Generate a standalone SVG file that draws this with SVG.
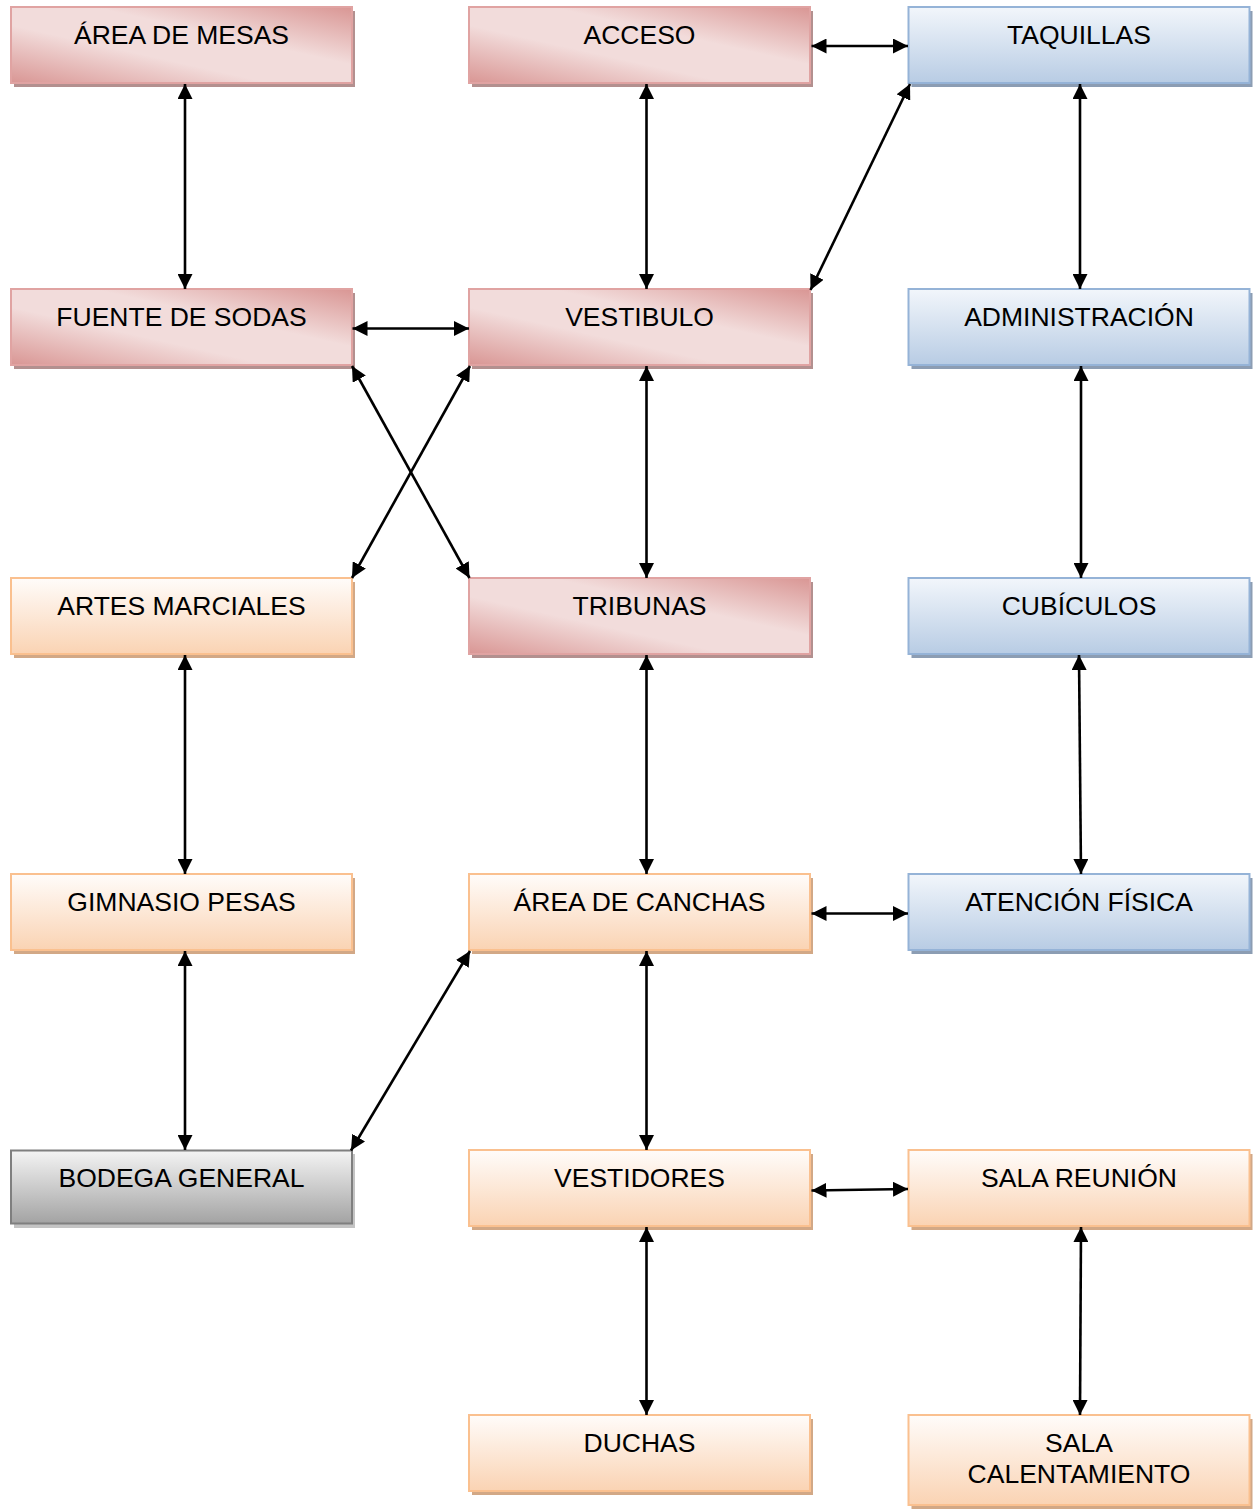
<svg xmlns="http://www.w3.org/2000/svg" width="1254" height="1509" viewBox="0 0 1254 1509">
<style>
text{font-family:"Liberation Sans",Arial,sans-serif;font-size:26.5px;fill:#000;text-anchor:middle}
.red{fill:url(#gRed);stroke:#e0a3a2;stroke-width:2}
.blue{fill:url(#gBlue);stroke:#95b3d7;stroke-width:2}
.orange{fill:url(#gOrange);stroke:#fac08f;stroke-width:2}
.grey{fill:url(#gGrey);stroke:#7f7f7f;stroke-width:2}
.sRed{fill:#b3908f}
.sBlue{fill:#8c9db3}
.sOrange{fill:#d2a886}
.sGrey{fill:#c4c4c4}
.c line{stroke:#000;stroke-width:2.6;marker-start:url(#ah);marker-end:url(#ah)}
</style>
<defs>
<linearGradient id="gRed" x1="0" y1="1" x2="1" y2="0">
<stop offset="0" stop-color="#d99694"/>
<stop offset="0.38" stop-color="#f2dcdb"/>
<stop offset="0.62" stop-color="#f2dcdb"/>
<stop offset="1" stop-color="#d99694"/>
</linearGradient>
<linearGradient id="gBlue" x1="0" y1="0" x2="0" y2="1">
<stop offset="0" stop-color="#f2f6fb"/>
<stop offset="1" stop-color="#b8cce4"/>
</linearGradient>
<linearGradient id="gOrange" x1="0" y1="0" x2="0" y2="1">
<stop offset="0" stop-color="#fffcfa"/>
<stop offset="1" stop-color="#fad3b3"/>
</linearGradient>
<linearGradient id="gGrey" x1="0" y1="0" x2="0" y2="1">
<stop offset="0" stop-color="#f4f4f4"/>
<stop offset="1" stop-color="#a3a3a3"/>
</linearGradient>
<marker id="ah" viewBox="0 0 15 15" refX="15" refY="7.5" markerWidth="15" markerHeight="15" markerUnits="userSpaceOnUse" orient="auto-start-reverse">
<path d="M0,0 L15,7.5 L0,15 z" fill="#000"/>
</marker>
</defs>

<g id="n-area-mesas"><rect class="sRed" x="14" y="11" width="341" height="76"/><rect class="red" x="11" y="7" width="341" height="76"/><text x="181.5" y="43.5">ÁREA DE MESAS</text></g>
<g id="n-acceso"><rect class="sRed" x="472" y="11" width="341" height="76"/><rect class="red" x="469" y="7" width="341" height="76"/><text x="639.5" y="43.5">ACCESO</text></g>
<g id="n-taquillas"><rect class="sBlue" x="911.5" y="11" width="341" height="76"/><rect class="blue" x="908.5" y="7" width="341" height="76"/><text x="1079" y="43.5">TAQUILLAS</text></g>

<g id="n-fuente"><rect class="sRed" x="14" y="293" width="341" height="76"/><rect class="red" x="11" y="289" width="341" height="76"/><text x="181.5" y="325.5">FUENTE DE SODAS</text></g>
<g id="n-vestibulo"><rect class="sRed" x="472" y="293" width="341" height="76"/><rect class="red" x="469" y="289" width="341" height="76"/><text x="639.5" y="325.5">VESTIBULO</text></g>
<g id="n-administracion"><rect class="sBlue" x="911.5" y="293" width="341" height="76"/><rect class="blue" x="908.5" y="289" width="341" height="76"/><text x="1079" y="325.5">ADMINISTRACIÓN</text></g>

<g id="n-artes"><rect class="sOrange" x="14" y="582" width="341" height="76"/><rect class="orange" x="11" y="578" width="341" height="76"/><text x="181.5" y="614.5">ARTES MARCIALES</text></g>
<g id="n-tribunas"><rect class="sRed" x="472" y="582" width="341" height="76"/><rect class="red" x="469" y="578" width="341" height="76"/><text x="639.5" y="614.5">TRIBUNAS</text></g>
<g id="n-cubiculos"><rect class="sBlue" x="911.5" y="582" width="341" height="76"/><rect class="blue" x="908.5" y="578" width="341" height="76"/><text x="1079" y="614.5">CUBÍCULOS</text></g>

<g id="n-gimnasio"><rect class="sOrange" x="14" y="878" width="341" height="76"/><rect class="orange" x="11" y="874" width="341" height="76"/><text x="181.5" y="910.5">GIMNASIO PESAS</text></g>
<g id="n-canchas"><rect class="sOrange" x="472" y="878" width="341" height="76"/><rect class="orange" x="469" y="874" width="341" height="76"/><text x="639.5" y="910.5">ÁREA DE CANCHAS</text></g>
<g id="n-atencion"><rect class="sBlue" x="911.5" y="878" width="341" height="76"/><rect class="blue" x="908.5" y="874" width="341" height="76"/><text x="1079" y="910.5">ATENCIÓN FÍSICA</text></g>

<g id="n-bodega"><rect class="sGrey" x="14" y="1154" width="341" height="74"/><rect class="grey" x="11" y="1150.5" width="341" height="73"/><text x="181.5" y="1186.5">BODEGA GENERAL</text></g>
<g id="n-vestidores"><rect class="sOrange" x="472" y="1154" width="341" height="76"/><rect class="orange" x="469" y="1150" width="341" height="76"/><text x="639.5" y="1186.5">VESTIDORES</text></g>
<g id="n-sala-reunion"><rect class="sOrange" x="911.5" y="1154" width="341" height="76"/><rect class="orange" x="908.5" y="1150" width="341" height="76"/><text x="1079" y="1186.5">SALA REUNIÓN</text></g>

<g id="n-duchas"><rect class="sOrange" x="472" y="1419" width="341" height="76"/><rect class="orange" x="469" y="1415" width="341" height="76"/><text x="639.5" y="1451.5">DUCHAS</text></g>
<g id="n-sala-calentamiento"><rect class="sOrange" x="911.5" y="1419" width="341" height="90"/><rect class="orange" x="908.5" y="1415" width="341" height="90"/><text x="1079" y="1451.5">SALA</text><text x="1079" y="1482.5">CALENTAMIENTO</text></g>

<g id="connectors" class="c">
<line x1="185" y1="84" x2="185" y2="289"/>
<line x1="646.5" y1="84" x2="646.5" y2="289"/>
<line x1="811.5" y1="46" x2="908" y2="46"/>
<line x1="1080" y1="84" x2="1080" y2="289"/>
<line x1="910" y1="84" x2="810.5" y2="290"/>
<line x1="352.5" y1="328.5" x2="469" y2="328.5"/>
<line x1="352" y1="366" x2="469.5" y2="578"/>
<line x1="470" y1="366" x2="352" y2="578"/>
<line x1="646.5" y1="366" x2="646.5" y2="578"/>
<line x1="1081" y1="366" x2="1081" y2="578"/>
<line x1="185" y1="655" x2="185" y2="874"/>
<line x1="646.5" y1="655" x2="646.5" y2="874"/>
<line x1="1079" y1="655" x2="1081" y2="874"/>
<line x1="811.5" y1="913.5" x2="908" y2="913.5"/>
<line x1="185" y1="951" x2="185" y2="1150"/>
<line x1="470" y1="951" x2="351" y2="1150.5"/>
<line x1="646.5" y1="951" x2="646.5" y2="1150"/>
<line x1="811.5" y1="1190.5" x2="908" y2="1189"/>
<line x1="646.5" y1="1227" x2="646.5" y2="1415"/>
<line x1="1081" y1="1227" x2="1080" y2="1415"/>
</g>
</svg>
